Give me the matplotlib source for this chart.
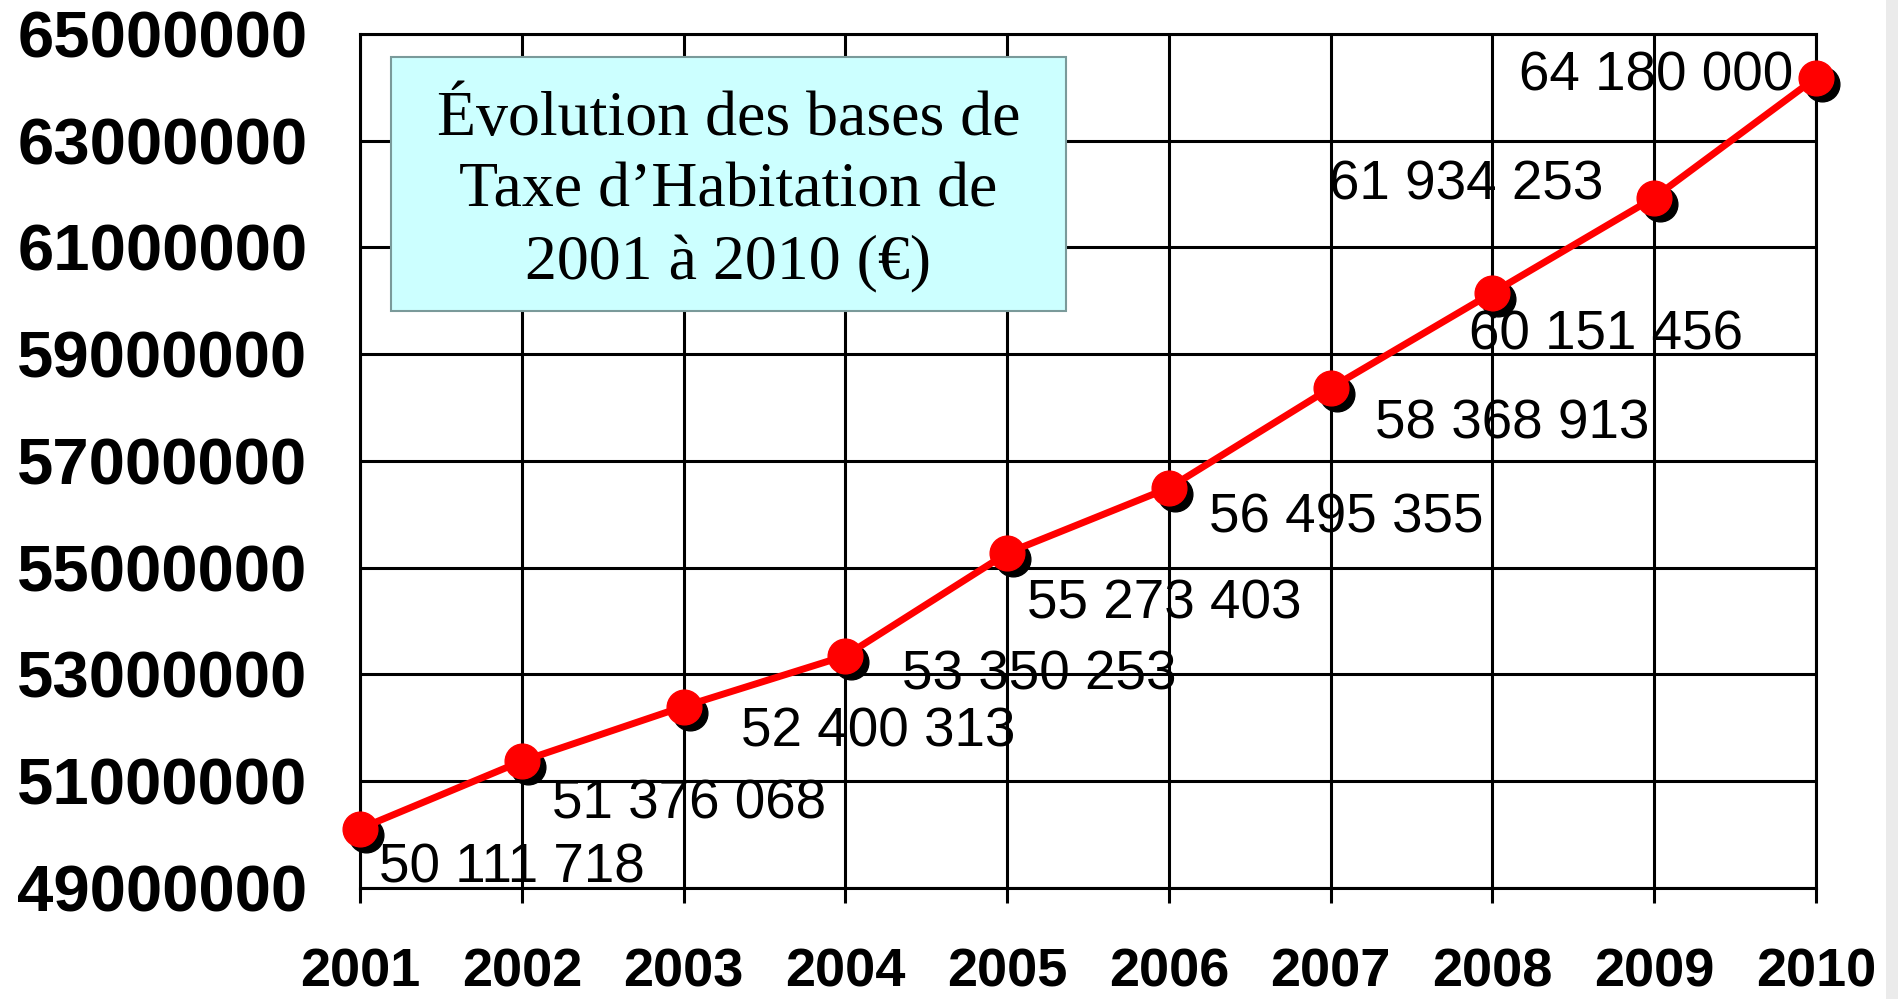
import matplotlib
matplotlib.use("Agg")
import matplotlib.pyplot as plt
from matplotlib.patches import Rectangle
from matplotlib import transforms

# Data
years = [2001, 2002, 2003, 2004, 2005, 2006, 2007, 2008, 2009, 2010]
bases = [50111718, 51376068, 52400313, 53350253, 55273403,
         56495355, 58368913, 60151456, 61934253, 64180000]
value_labels = ["50 111 718", "51 376 068", "52 400 313", "53 350 253", "55 273 403",
                "56 495 355", "58 368 913", "60 151 456", "61 934 253", "64 180 000"]
y_ticks = [49000000, 51000000, 53000000, 55000000, 57000000,
           59000000, 61000000, 63000000, 65000000]
# label offsets in points (left edge, vertical centre) relative to each point
label_offsets = [(14, -29), (22, -31), (41, -19), (41, -14), (14, -37),
                 (29, -22), (32, -26), (-17, -31), (-234, 9), (-214, 1)]

fig = plt.figure(figsize=(18.99, 9.99), dpi=100)
ax = fig.add_axes([0.1896, 0.1111, 0.7667, 0.8549])

# grey strip at right edge
fig.patches.append(Rectangle((1886 / 1899, 0), 1, 1, transform=fig.transFigure,
                             facecolor="#ebebeb", edgecolor="none", zorder=0))

# shadow markers
shadow = transforms.offset_copy(ax.transData, fig=fig, x=6, y=-6, units="dots")
ax.plot(years, bases, "o", color="black", markersize=25, transform=shadow, zorder=3,
        clip_on=False)
ax.plot(years, bases, "-o", color="#ff0000", linewidth=5, markersize=25, zorder=4,
        clip_on=False)

for x, y, lab, (dx, dy) in zip(years, bases, value_labels, label_offsets):
    ax.annotate(lab, (x, y), xytext=(dx, dy), textcoords="offset points",
                ha="left", va="center", fontsize=39.5, family="Liberation Sans",
                zorder=5)

ax.set_xlim(2001, 2010)
ax.set_ylim(49000000, 65000000)
ax.set_xticks(years)
ax.set_yticks(y_ticks)
ax.set_xticklabels([str(y) for y in years], fontsize=39, fontweight="bold",
                   family="Liberation Sans")
ax.set_yticklabels([str(v) for v in y_ticks], fontsize=47, fontweight="bold",
                   family="Liberation Sans")
ax.tick_params(axis="x", length=11, width=2.2, direction="out", pad=32)
ax.tick_params(axis="y", length=0, pad=38)
ax.grid(True, color="black", linewidth=2.2)
for s in ax.spines.values():
    s.set_linewidth(2.2)
ax.set_axisbelow(True)

# title box
fig.patches.append(Rectangle((391 / 1899, 1 - 311 / 999), 675 / 1899, 254 / 999,
                             transform=fig.transFigure, facecolor="#ccffff",
                             edgecolor="#7a9a9a", linewidth=1.5, zorder=6))
fig.text((391 + 1066) / 2 / 1899, 1 - 192 / 999,
         "Évolution des bases de\nTaxe d’Habitation de\n2001 à 2010 (€)",
         ha="center", va="center", fontsize=46, family="Liberation Serif",
         linespacing=1.32, zorder=7)

fig.savefig("out.png", dpi=100)
